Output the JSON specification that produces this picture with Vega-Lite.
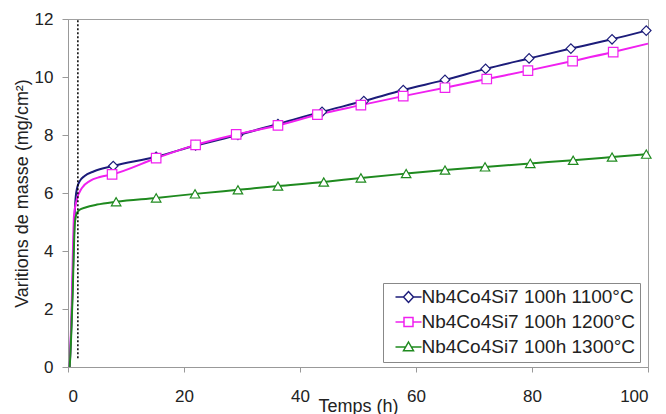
{
  "$schema": "https://vega.github.io/schema/vega-lite/v6.json",
  "width": 580,
  "height": 348,
  "autosize": "none",
  "padding": {"left": 68, "top": 19, "right": 18, "bottom": 47},
  "background": "white",
  "config": {
    "font": "Liberation Sans",
    "view": {"stroke": "#a0a0a0", "strokeWidth": 1},
    "axis": {"grid": false, "domainColor": "#999999", "tickColor": "#999999", "labelColor": "#222222", "titleColor": "#222222", "labelFont": "Liberation Sans", "titleFont": "Liberation Sans", "titleFontWeight": "normal", "labelFontSize": 17, "titleFontSize": 18}
  },
  "data": {
    "values": [
      {"s": "Nb4Co4Si7 100h 1100°C", "t": 0.3, "v": 0, "m": 0},
      {"s": "Nb4Co4Si7 100h 1100°C", "t": 0.6, "v": 1.5, "m": 0},
      {"s": "Nb4Co4Si7 100h 1100°C", "t": 0.9, "v": 3.6, "m": 0},
      {"s": "Nb4Co4Si7 100h 1100°C", "t": 1.1, "v": 5.0, "m": 0},
      {"s": "Nb4Co4Si7 100h 1100°C", "t": 1.3, "v": 5.8, "m": 0},
      {"s": "Nb4Co4Si7 100h 1100°C", "t": 1.6, "v": 6.2, "m": 0},
      {"s": "Nb4Co4Si7 100h 1100°C", "t": 2.0, "v": 6.4, "m": 0},
      {"s": "Nb4Co4Si7 100h 1100°C", "t": 2.8, "v": 6.58, "m": 0},
      {"s": "Nb4Co4Si7 100h 1100°C", "t": 4.5, "v": 6.75, "m": 0},
      {"s": "Nb4Co4Si7 100h 1100°C", "t": 7.8, "v": 6.93, "m": 1},
      {"s": "Nb4Co4Si7 100h 1100°C", "t": 15.2, "v": 7.25, "m": 1},
      {"s": "Nb4Co4Si7 100h 1100°C", "t": 22, "v": 7.64, "m": 1},
      {"s": "Nb4Co4Si7 100h 1100°C", "t": 29.3, "v": 8.0, "m": 1},
      {"s": "Nb4Co4Si7 100h 1100°C", "t": 36.2, "v": 8.38, "m": 1},
      {"s": "Nb4Co4Si7 100h 1100°C", "t": 43.8, "v": 8.8, "m": 1},
      {"s": "Nb4Co4Si7 100h 1100°C", "t": 51, "v": 9.17, "m": 1},
      {"s": "Nb4Co4Si7 100h 1100°C", "t": 57.8, "v": 9.55, "m": 1},
      {"s": "Nb4Co4Si7 100h 1100°C", "t": 65, "v": 9.9, "m": 1},
      {"s": "Nb4Co4Si7 100h 1100°C", "t": 72, "v": 10.28, "m": 1},
      {"s": "Nb4Co4Si7 100h 1100°C", "t": 79.5, "v": 10.64, "m": 1},
      {"s": "Nb4Co4Si7 100h 1100°C", "t": 86.7, "v": 10.98, "m": 1},
      {"s": "Nb4Co4Si7 100h 1100°C", "t": 93.8, "v": 11.3, "m": 1},
      {"s": "Nb4Co4Si7 100h 1100°C", "t": 99.7, "v": 11.6, "m": 1},
      {"s": "Nb4Co4Si7 100h 1200°C", "t": 0.3, "v": 0, "m": 0},
      {"s": "Nb4Co4Si7 100h 1200°C", "t": 0.6, "v": 1.8, "m": 0},
      {"s": "Nb4Co4Si7 100h 1200°C", "t": 0.85, "v": 4.0, "m": 0},
      {"s": "Nb4Co4Si7 100h 1200°C", "t": 1.03, "v": 5.2, "m": 0},
      {"s": "Nb4Co4Si7 100h 1200°C", "t": 1.5, "v": 5.76, "m": 0},
      {"s": "Nb4Co4Si7 100h 1200°C", "t": 2.4, "v": 6.17, "m": 0},
      {"s": "Nb4Co4Si7 100h 1200°C", "t": 3.8, "v": 6.42, "m": 0},
      {"s": "Nb4Co4Si7 100h 1200°C", "t": 5.5, "v": 6.55, "m": 0},
      {"s": "Nb4Co4Si7 100h 1200°C", "t": 7.6, "v": 6.64, "m": 1},
      {"s": "Nb4Co4Si7 100h 1200°C", "t": 15.2, "v": 7.2, "m": 1},
      {"s": "Nb4Co4Si7 100h 1200°C", "t": 22, "v": 7.66, "m": 1},
      {"s": "Nb4Co4Si7 100h 1200°C", "t": 29, "v": 8.02, "m": 1},
      {"s": "Nb4Co4Si7 100h 1200°C", "t": 36.2, "v": 8.33, "m": 1},
      {"s": "Nb4Co4Si7 100h 1200°C", "t": 43, "v": 8.7, "m": 1},
      {"s": "Nb4Co4Si7 100h 1200°C", "t": 50.5, "v": 9.03, "m": 1},
      {"s": "Nb4Co4Si7 100h 1200°C", "t": 57.8, "v": 9.34, "m": 1},
      {"s": "Nb4Co4Si7 100h 1200°C", "t": 65, "v": 9.63, "m": 1},
      {"s": "Nb4Co4Si7 100h 1200°C", "t": 72.2, "v": 9.93, "m": 1},
      {"s": "Nb4Co4Si7 100h 1200°C", "t": 79.3, "v": 10.22, "m": 1},
      {"s": "Nb4Co4Si7 100h 1200°C", "t": 87, "v": 10.55, "m": 1},
      {"s": "Nb4Co4Si7 100h 1200°C", "t": 94, "v": 10.86, "m": 1},
      {"s": "Nb4Co4Si7 100h 1200°C", "t": 100, "v": 11.15, "m": 0},
      {"s": "Nb4Co4Si7 100h 1300°C", "t": 0.3, "v": 0, "m": 0},
      {"s": "Nb4Co4Si7 100h 1300°C", "t": 0.5, "v": 0.8, "m": 0},
      {"s": "Nb4Co4Si7 100h 1300°C", "t": 0.8, "v": 2.5, "m": 0},
      {"s": "Nb4Co4Si7 100h 1300°C", "t": 1.0, "v": 4.0, "m": 0},
      {"s": "Nb4Co4Si7 100h 1300°C", "t": 1.2, "v": 5.0, "m": 0},
      {"s": "Nb4Co4Si7 100h 1300°C", "t": 1.5, "v": 5.3, "m": 0},
      {"s": "Nb4Co4Si7 100h 1300°C", "t": 2.0, "v": 5.42, "m": 0},
      {"s": "Nb4Co4Si7 100h 1300°C", "t": 3, "v": 5.5, "m": 0},
      {"s": "Nb4Co4Si7 100h 1300°C", "t": 5, "v": 5.6, "m": 0},
      {"s": "Nb4Co4Si7 100h 1300°C", "t": 8.3, "v": 5.7, "m": 1},
      {"s": "Nb4Co4Si7 100h 1300°C", "t": 15.2, "v": 5.83, "m": 1},
      {"s": "Nb4Co4Si7 100h 1300°C", "t": 21.9, "v": 5.97, "m": 1},
      {"s": "Nb4Co4Si7 100h 1300°C", "t": 29.3, "v": 6.11, "m": 1},
      {"s": "Nb4Co4Si7 100h 1300°C", "t": 36.2, "v": 6.24, "m": 1},
      {"s": "Nb4Co4Si7 100h 1300°C", "t": 44.1, "v": 6.38, "m": 1},
      {"s": "Nb4Co4Si7 100h 1300°C", "t": 50.5, "v": 6.52, "m": 1},
      {"s": "Nb4Co4Si7 100h 1300°C", "t": 58.3, "v": 6.67, "m": 1},
      {"s": "Nb4Co4Si7 100h 1300°C", "t": 65, "v": 6.79, "m": 1},
      {"s": "Nb4Co4Si7 100h 1300°C", "t": 71.9, "v": 6.9, "m": 1},
      {"s": "Nb4Co4Si7 100h 1300°C", "t": 79.7, "v": 7.02, "m": 1},
      {"s": "Nb4Co4Si7 100h 1300°C", "t": 87.1, "v": 7.13, "m": 1},
      {"s": "Nb4Co4Si7 100h 1300°C", "t": 93.8, "v": 7.24, "m": 1},
      {"s": "Nb4Co4Si7 100h 1300°C", "t": 99.7, "v": 7.34, "m": 1}
    ]
  },
  "encoding": {
    "x": {"field": "t", "type": "quantitative", "scale": {"domain": [0, 100], "nice": false},
      "axis": {"values": [0, 20, 40, 60, 80, 100], "tickSize": 5, "labelPadding": 16, "title": "Temps (h)", "titleBaseline": "alphabetic", "titleY": 44}},
    "y": {"field": "v", "type": "quantitative", "scale": {"domain": [0, 12], "nice": false},
      "axis": {"values": [0, 2, 4, 6, 8, 10, 12], "tickSize": 6, "labelPadding": 9, "title": "Varitions de masse (mg/cm²)", "titlePadding": 3}},
    "stroke": {"field": "s", "type": "nominal",
      "scale": {"range": ["#1c1c7a", "#f020f0", "#1f8a1f"]},
      "legend": {
        "orient": "none", "legendX": 315, "legendY": 264, "title": null,
        "strokeColor": "#888888", "fillColor": "white", "padding": 4.5,
        "labelFontSize": 19, "labelFont": "Liberation Sans", "labelColor": "#222222", "labelLimit": 400,
        "symbolSize": 100, "symbolStrokeWidth": 1.5, "labelOffset": 15, "rowPadding": 5,
        "symbolFillColor": "white",
        "encode": {"symbols": {"update": {
          "shape": {"signal": "datum.value == 'Nb4Co4Si7 100h 1100°C' ? 'M-0.3,0H1.3M3.3,0H4.9M1.3,0L2.3,-1.1L3.3,0L2.3,1.1Z' : datum.value == 'Nb4Co4Si7 100h 1200°C' ? 'M-0.3,0H1.4M3.2,0H4.9M1.4,-0.9H3.2V0.9H1.4Z' : 'M-0.3,0H1.7M2.9,0H4.9M2.3,-1L3.3,0.75H1.3Z'"},
          "fill": {"value": "white"},
          "opacity": {"value": 1}
        }}}
      }}
  },
  "layer": [
    {
      "mark": {"type": "line", "strokeWidth": 2, "interpolate": "monotone"},
      "encoding": {"order": {"field": "t", "type": "quantitative"}}
    },
    {
      "transform": [{"filter": "datum.m == 1"}],
      "mark": {"type": "point", "filled": false, "fill": "white", "fillOpacity": 1, "opacity": 1, "size": 90, "strokeWidth": 1.2},
      "encoding": {
        "shape": {"field": "s", "type": "nominal", "scale": {"range": ["diamond", "square", "triangle-up"]}, "legend": null}
      }
    },
    {
      "data": {"values": [{"tx": 1.7, "y1": 0.3, "y2": 12}]},
      "mark": {"type": "rule", "color": "black", "strokeWidth": 1.5, "strokeDash": [2, 2]},
      "encoding": {
        "x": {"field": "tx", "type": "quantitative"},
        "y": {"field": "y1", "type": "quantitative"},
        "y2": {"field": "y2"},
        "stroke": {"value": "black"}
      }
    }
  ]
}
